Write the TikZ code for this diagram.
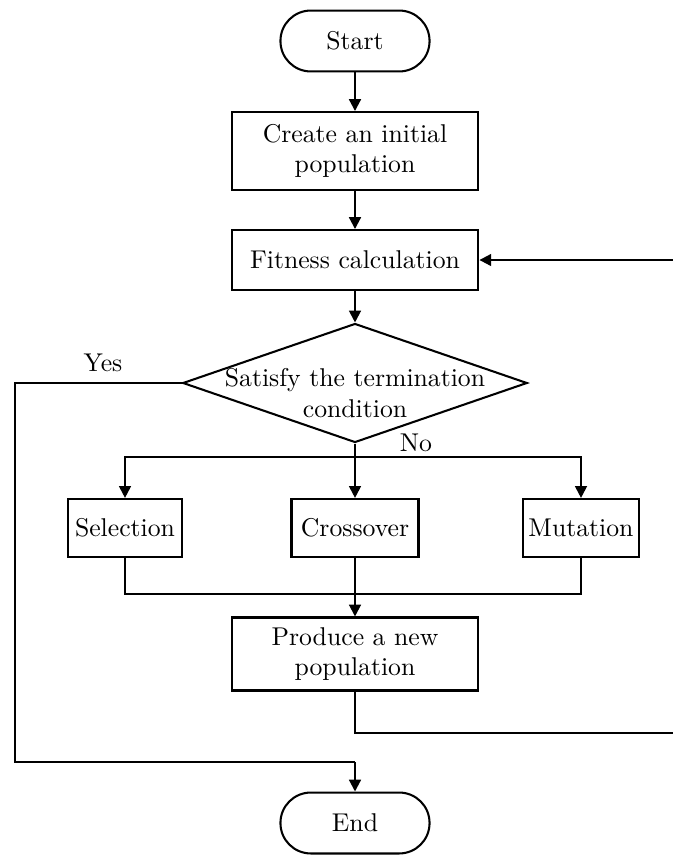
\documentclass[tikz,border=0pt]{standalone}
\usetikzlibrary{arrows.meta,shapes.geometric}

\begin{document}
\begin{tikzpicture}[x=0.389pt,y=-0.389pt,
  line/.style={thick},
  arr/.style={thick,-{Triangle[length=4.6pt,width=4.6pt]}},
  term/.style={draw,thick,rounded corners=11.8pt,minimum width=58pt,minimum height=23.7pt,inner sep=0pt},
  proc/.style={draw,thick,align=center,inner sep=0pt,minimum width=96pt},
  small/.style={draw,thick,inner sep=0pt,minimum height=22.6pt},
  cond/.style={draw,thick,diamond,inner sep=0pt,minimum width=134pt,minimum height=46.3pt}]
\useasboundingbox (0,0) rectangle (673,855);
\node[term] (start) at (355,41) {Start};
\node[proc,minimum height=30.3pt] (init) at (355,151) {Create an initial\\population};
\node[proc,minimum height=23.3pt] (fit) at (355,260) {Fitness calculation};
\node[cond] (test) at (355,383) {};
\node[align=center] (testtxt) at (355,393) {Satisfy the termination\\condition};
\node[small,minimum width=44.7pt] (sel) at (125,528) {Selection};
\node[small,minimum width=49.4pt] (cro) at (355,528) {Crossover};
\node[small,minimum width=45pt] (mut) at (581,528) {Mutation};
\node[proc,minimum height=28.4pt] (prod) at (355,654) {Produce a new\\population};
\node[term] (end) at (355,823) {End};
\node (yes) at (103,363) {Yes};
\node (no) at (416,443) {No};
\coordinate (br) at (355,457);
\coordinate (jn) at (355,594);
\coordinate (lft) at (15,762);
\coordinate (rgt) at (690,733);
\draw[arr] (start) -- (init);
\draw[arr] (init) -- (fit);
\draw[arr] (fit) -- (test);
\draw[line] (test.west) -| (lft) -- (lft -| end.north);
\draw[arr] (lft -| end.north) -- (end.north);
\draw[arr] (test.south) -- (cro.north);
\draw[arr] (br) -| (sel.north);
\draw[arr] (br) -| (mut.north);
\draw[line] (sel.south) |- (jn) -| (mut.south);
\draw[arr] (cro.south) -- (prod.north);
\begin{scope}
\clip (0,0) rectangle (673,855);
\draw[arr] (prod.south) |- (rgt) |- (fit.east);
\end{scope}
\end{tikzpicture}
\end{document}
